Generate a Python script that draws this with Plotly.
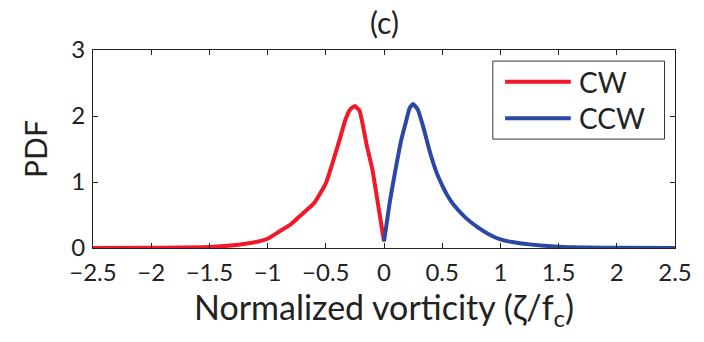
import plotly.graph_objects as go

# CW (clockwise, negative vorticity) PDF
cw_x = [-2.5, -2.0, -1.75, -1.5, -1.25, -1.1, -1.0, -0.9, -0.8, -0.7, -0.6, -0.5,
        -0.44, -0.38, -0.33, -0.29, -0.25, -0.21, -0.15, -0.1, -0.05, 0.0]
cw_y = [0.0, 0.003, 0.007, 0.015, 0.05, 0.09, 0.14, 0.25, 0.36, 0.52, 0.68, 0.98,
        1.3, 1.65, 1.95, 2.1, 2.15, 2.08, 1.57, 1.19, 0.65, 0.1]

# CCW (counter-clockwise, positive vorticity) PDF
ccw_x = [0.0, 0.05, 0.1, 0.15, 0.19, 0.22, 0.25, 0.29, 0.33, 0.4, 0.45, 0.5, 0.55, 0.6,
         0.7, 0.8, 0.9, 1.0, 1.1, 1.25, 1.5, 1.75, 2.0, 2.5]
ccw_y = [0.1, 0.7, 1.2, 1.65, 1.92, 2.12, 2.18, 2.1, 1.88, 1.42, 1.15, 0.95, 0.78, 0.65,
         0.46, 0.32, 0.21, 0.13, 0.09, 0.055, 0.02, 0.008, 0.003, 0.0]

x_ticks = [-2.5, -2, -1.5, -1, -0.5, 0, 0.5, 1, 1.5, 2, 2.5]
x_tick_labels = ["\u22122.5", "\u22122", "\u22121.5", "\u22121", "\u22120.5", "0",
                 "0.5", "1", "1.5", "2", "2.5"]
y_ticks = [0, 1, 2, 3]

RED = "#f2182a"
BLUE = "#2b48a6"
FONT = "Lato"

fig = go.Figure()
fig.add_trace(go.Scatter(x=cw_x, y=cw_y, mode="lines", name="CW",
                         line=dict(color=RED, width=4, shape="spline", smoothing=0.4)))
fig.add_trace(go.Scatter(x=ccw_x, y=ccw_y, mode="lines", name="CCW",
                         line=dict(color=BLUE, width=4, shape="spline", smoothing=0.4)))

axis_common = dict(showline=True, linecolor="#222", linewidth=1, mirror="ticks",
                   ticks="inside", ticklen=5, tickcolor="#222", showgrid=False,
                   zeroline=False, tickfont=dict(family=FONT, size=24, color="#222"))

fig.update_layout(
    width=704, height=342,
    margin=dict(l=93, r=25, t=50, b=94),
    plot_bgcolor="white", paper_bgcolor="white",
    showlegend=False,
    xaxis=dict(range=[-2.5, 2.5], tickvals=x_ticks, ticktext=x_tick_labels,
               ticklabelstandoff=3,
               title=dict(text="Normalized vorticity (\u03b6/f<sub>c</sub>)",
                          font=dict(family=FONT, size=34, color="#222"), standoff=4),
               **axis_common),
    yaxis=dict(range=[0, 3], tickvals=y_ticks, ticklabelstandoff=2,
               title=dict(text="PDF", font=dict(family=FONT, size=30, color="#222"),
                          standoff=14),
               **axis_common),
)

# Title
fig.add_annotation(x=0.5, y=1.14, xref="paper", yref="paper", text="(c)",
                   showarrow=False, xanchor="center", yanchor="middle",
                   font=dict(family=FONT, size=30, color="#222"))

# Legend (drawn manually to match boxed MATLAB legend)
fig.add_shape(type="rect", xref="paper", yref="paper", x0=0.687, x1=0.982,
              y0=0.550, y1=0.944, line=dict(color="#333", width=1),
              fillcolor="white", layer="above")
for name, col, yy in [("CW", RED, 0.840), ("CCW", BLUE, 0.655)]:
    fig.add_shape(type="line", xref="paper", yref="paper", x0=0.708, x1=0.821,
                  y0=yy, y1=yy, line=dict(color=col, width=4), layer="above")
    fig.add_annotation(x=0.832, y=yy, xref="paper", yref="paper", text=name,
                       showarrow=False, xanchor="left", yanchor="middle",
                       font=dict(family=FONT, size=28, color="#222"))

fig.write_html("out.html")
